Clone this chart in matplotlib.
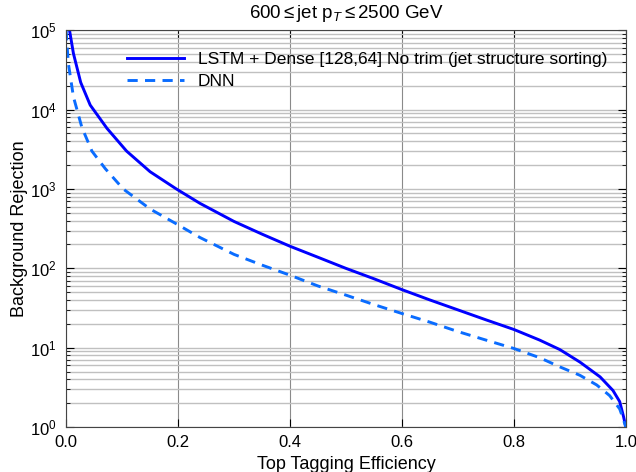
import numpy as np
import matplotlib
matplotlib.use("Agg")
import matplotlib.pyplot as plt
from matplotlib.ticker import LogLocator, NullFormatter, FixedLocator

plt.rcParams['font.family'] = ['Liberation Sans', 'DejaVu Sans']
plt.rcParams['mathtext.fontset'] = 'custom'
plt.rcParams['mathtext.rm'] = 'Liberation Sans'
plt.rcParams['mathtext.it'] = 'Liberation Sans:italic'

# Data
lstm_eff = [0.006, 0.013, 0.026, 0.043, 0.073, 0.108, 0.15, 0.197, 0.239, 0.3, 0.35,
            0.4, 0.45, 0.5, 0.55, 0.6, 0.65, 0.7, 0.75, 0.8, 0.846, 0.882, 0.918,
            0.954, 0.977, 0.989, 0.996, 1.0]
lstm_rej = [1.0e5, 5.1e4, 2.2e4, 1.14e4, 5.8e3, 3.0e3, 1.65e3, 1.0e3, 660, 390, 270,
            190, 138, 100, 74, 54, 40, 30, 22.5, 17, 12.5, 9.5, 6.6,
            4.3, 2.9, 2.1, 1.35, 1.0]

dnn_eff = [0.0, 0.001, 0.004, 0.013, 0.028, 0.046, 0.07, 0.102, 0.15, 0.198, 0.239, 0.3,
           0.35, 0.4, 0.45, 0.5, 0.55, 0.6, 0.65, 0.7, 0.75, 0.8, 0.846, 0.882, 0.918,
           0.948, 0.971, 0.989, 0.996, 1.0]
dnn_rej = [1.0e5, 7.4e4, 3.8e4, 1.45e4, 6.0e3, 3.0e3, 1.8e3, 1.0e3, 560, 360, 245, 150,
           110, 82, 60, 46, 35, 27, 21, 16, 12.5, 9.8, 7.5, 5.75, 4.5,
           3.4, 2.5, 1.7, 1.23, 1.0]

x_ticks = [0.0, 0.2, 0.4, 0.6, 0.8, 1.0]
x_labels = ['0.0', '0.2', '0.4', '0.6', '0.8', '1.0']
y_ticks = [1, 10, 100, 1000, 10000, 100000]
y_labels = ['$10^{0}$', '$10^{1}$', '$10^{2}$', '$10^{3}$', '$10^{4}$', '$10^{5}$']

fig = plt.figure(figsize=(6.36, 4.72), dpi=100)
ax = fig.add_axes([0.104, 0.095, 0.88, 0.841])

ax.plot(lstm_eff, lstm_rej, color='#0000ff', lw=2.1, solid_joinstyle='round',
        label='LSTM + Dense [128,64] No trim (jet structure sorting)')
ax.plot(dnn_eff, dnn_rej, color='#0a6cff', lw=2.1, ls=(0, (3.5, 2.5)),
        dash_joinstyle='round', label='DNN')

ax.set_yscale('log')
ax.set_xlim(0, 1)
ax.set_ylim(1, 1e5)
ax.set_xticks(x_ticks)
ax.set_xticklabels(x_labels)
ax.yaxis.set_major_locator(FixedLocator(y_ticks))
ax.set_yticklabels(y_labels)
ax.yaxis.set_minor_locator(LogLocator(base=10, subs=np.arange(2, 10), numticks=20))
ax.yaxis.set_minor_formatter(NullFormatter())

ax.grid(True, which='major', axis='x', color='#8a8a8a', lw=0.8)
ax.grid(True, which='both', axis='y', color='#c0c0c0', lw=1.0)
ax.set_axisbelow(True)

ax.tick_params(which='both', direction='in', top=True, right=True, labelsize=12)
ax.tick_params(which='major', length=6)
ax.tick_params(which='minor', length=3)
ax.tick_params(axis='y', which='major', pad=7)
ax.tick_params(axis='x', which='major', pad=6)
for s in ax.spines.values():
    s.set_color('#444444')
    s.set_linewidth(0.8)

ax.set_xlabel('Top Tagging Efficiency', fontsize=13, labelpad=4)
ax.set_ylabel('Background Rejection', fontsize=13, labelpad=1)
ax.set_title('600$\\leq$jet p$_{T}$$\\leq$2500 GeV', fontsize=13.5, pad=9)

leg = ax.legend(loc='upper right', frameon=False, fontsize=12.5, handlelength=3.3,
                bbox_to_anchor=(0.995, 0.985), labelspacing=0.4)

fig.savefig('out.png', dpi=100)
